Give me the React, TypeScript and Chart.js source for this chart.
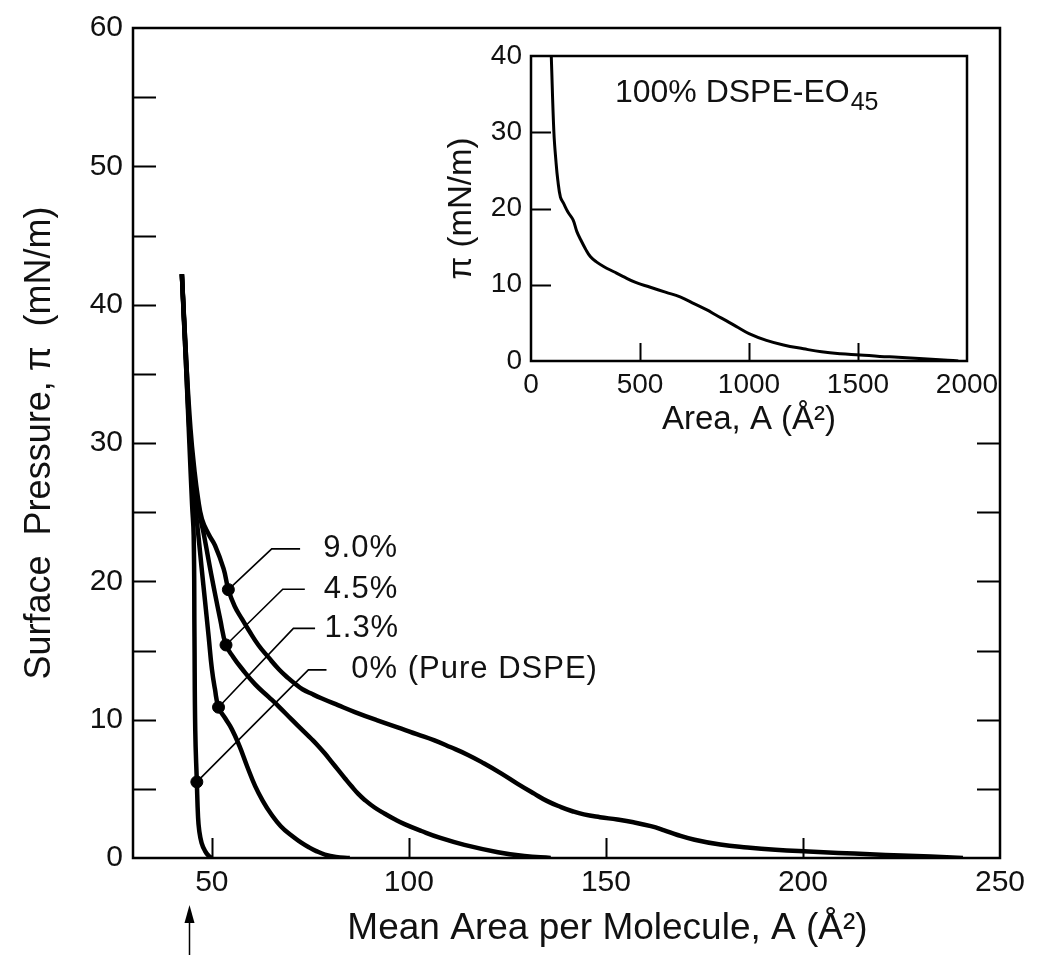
import React, { useEffect, useRef } from "react";
import { Chart, registerables } from "chart.js";
Chart.register(...registerables);

// ---------- Main isotherms: mean area per molecule (Å²) vs surface pressure (mN/m)
const pure0X = [42.4, 43.4, 44.3, 45.0, 45.4, 45.6, 45.8, 46.2, 46.5, 46.8, 47.4, 48.3, 49.2, 50.0];
const pure0Y = [42.2, 36.0, 30.0, 25.5, 23.3, 16.0, 9.2, 5.5, 3.0, 2.0, 1.1, 0.5, 0.15, 0.0];

const p13X = [42.4, 43.4, 44.5, 45.6, 46.6, 47.4, 48.3, 49.2, 50.0, 50.8, 51.7, 53.4, 55.1, 57.0, 59.0, 61.0, 63.0, 65.0, 67.5, 70.3, 72.5, 74.5, 76.5, 78.7, 81.5, 85.0];
const p13Y = [42.2, 36.0, 30.0, 26.0, 23.3, 21.0, 18.5, 16.0, 13.7, 12.2, 10.9, 10.1, 9.3, 8.1, 6.6, 5.2, 4.1, 3.2, 2.3, 1.6, 1.15, 0.8, 0.5, 0.25, 0.08, 0.0];

const p45X = [42.4, 43.5, 44.6, 45.8, 46.8, 47.9, 49.2, 50.4, 52.1, 53.6, 55.5, 57.6, 61.0, 64.4, 67.0, 70.3, 72.8, 75.3, 77.0, 78.7, 80.4, 82.1, 83.8, 85.4, 87.1, 88.8, 91.3, 93.9, 96.4, 98.9, 103.2, 108.0, 114.1, 122.6, 129.3, 136.0];
const p45Y = [42.2, 36.0, 30.0, 27.0, 25.0, 23.5, 21.5, 19.7, 17.3, 15.4, 14.5, 13.7, 12.55, 11.65, 10.95, 10.0, 9.3, 8.6, 8.1, 7.55, 6.95, 6.35, 5.75, 5.2, 4.65, 4.2, 3.65, 3.2, 2.8, 2.45, 1.95, 1.45, 0.95, 0.42, 0.14, 0.0];

const p90X = [42.4, 43.5, 44.6, 45.6, 46.5, 47.5, 49.2, 50.8, 53.0, 54.2, 55.8, 57.6, 59.3, 61.8, 64.4, 67.0, 69.4, 71.1, 73.0, 75.5, 77.8, 82.0, 86.3, 92.0, 98.1, 102.0, 106.5, 110.5, 115.0, 119.0, 123.4, 127.5, 131.8, 135.0, 138.6, 141.5, 144.4, 148.5, 152.9, 157.0, 161.4, 164.8, 168.0, 172.5, 179.0, 185.9, 193.0, 201.4, 209.0, 217.0, 225.0, 232.4, 240.6];
const p90Y = [42.2, 36.0, 31.0, 28.0, 26.0, 24.5, 23.4, 22.6, 20.9, 19.4, 18.2, 17.3, 16.5, 15.4, 14.5, 13.65, 13.0, 12.6, 12.2, 11.85, 11.55, 11.05, 10.55, 9.95, 9.35, 8.95, 8.5, 8.02, 7.45, 6.85, 6.12, 5.38, 4.65, 4.13, 3.68, 3.38, 3.15, 2.95, 2.78, 2.58, 2.3, 2.0, 1.68, 1.32, 0.97, 0.76, 0.6, 0.47, 0.37, 0.27, 0.18, 0.1, 0.0];

// Labelled points and their leader lines (data units)
const seriesLabels = ["9.0%", "4.5%", "1.3%", "0% (Pure DSPE)"];
const markerX = [54.2, 53.6, 51.7, 46.2];
const markerY = [19.4, 15.4, 10.9, 5.5];
const elbowX = [65.2, 68.0, 70.7, 74.5];
const elbowY = [22.35, 19.43, 16.6, 13.6];
const leaderEndX = [72.4, 73.6, 76.2, 79.1];
const labelX = [78.3, 78.4, 78.6, 85.4];

// Axis ticks
const xTickValues = [50, 100, 150, 200, 250];
const xTickMarks = [50, 100, 150, 200];
const yLeftTickMarks = [5, 10, 15, 20, 25, 30, 35, 40, 45, 50, 55];
const yRightTickMarks = [5, 10, 15, 20, 25, 30];
const arrowAtArea = 44.2;
const mainXTitle = "Mean Area per Molecule, A (Å²)";
const mainYTitle = "Surface  Pressure, π  (mN/m)";

// ---------- Inset: 100% DSPE-EO45
const insetX = [93, 105, 115, 123, 135, 149, 170, 193, 210, 228, 250, 272, 300, 333, 380, 421, 480, 544, 620, 684, 750, 807, 850, 895, 950, 1000, 1080, 1158, 1250, 1333, 1420, 1509, 1600, 1684, 1800, 1912, 1960];
const insetY = [40, 30, 26, 23.7, 21.5, 20.7, 19.5, 18.5, 17, 15.9, 14.7, 13.7, 13, 12.4, 11.7, 11.1, 10.3, 9.7, 9.0, 8.4, 7.5, 6.7, 6.0, 5.3, 4.4, 3.6, 2.7, 2.1, 1.6, 1.2, 0.95, 0.8, 0.6, 0.5, 0.3, 0.1, 0];
const insetXTickMarks = [500, 1000, 1500];
const insetYTickMarks = [10, 20, 30];
const insetTitlePos = { x: 385, y: 35.1 };

const FONT = "'Liberation Sans', Arial, Helvetica, sans-serif";
const INK = "#111";

const pts = (xs: number[], ys: number[]) => xs.map((x, i) => ({ x, y: ys[i] }));

const framePlugin = {
  id: "frame",
  afterDatasetsDraw(chart: any, _args: any, o: any) {
    const { ctx, chartArea: a, scales } = chart;
    const xs = scales.x, ys = scales.y;
    ctx.save();
    ctx.strokeStyle = "#000";
    ctx.lineWidth = o.frameWidth;
    ctx.strokeRect(a.left, a.top, a.right - a.left, a.bottom - a.top);
    ctx.lineWidth = o.tickWidth;
    ctx.beginPath();
    for (const v of o.leftTicks) {
      const py = Math.round(ys.getPixelForValue(v)) + 0.5;
      ctx.moveTo(a.left, py); ctx.lineTo(a.left + o.tickLen, py);
    }
    for (const v of o.rightTicks) {
      const py = Math.round(ys.getPixelForValue(v)) + 0.5;
      ctx.moveTo(a.right, py); ctx.lineTo(a.right - o.tickLen, py);
    }
    for (const v of o.bottomTicks) {
      const px = Math.round(xs.getPixelForValue(v)) + 0.5;
      ctx.moveTo(px, a.bottom); ctx.lineTo(px, a.bottom - o.xTickLen);
    }
    ctx.stroke();
    ctx.fillStyle = INK;
    ctx.textBaseline = "middle";
    ctx.textAlign = "left";
    for (const t of o.texts || []) {
      ctx.font = `${t.size}px ${FONT}`;
      (ctx as any).letterSpacing = t.spacing || "0px";
      const px = xs.getPixelForValue(t.x);
      const py = ys.getPixelForValue(t.y);
      ctx.fillText(t.text, px, py);
      if (t.sub) {
        const w = ctx.measureText(t.text).width;
        ctx.font = `${Math.round(t.size * 0.78)}px ${FONT}`;
        ctx.fillText(t.sub, px + w + 1, py + t.size * 0.3);
      }
    }
    (ctx as any).letterSpacing = "0px";
    if (o.xTitle) {
      ctx.font = `${o.xTitle.size}px ${FONT}`;
      ctx.textAlign = "center";
      ctx.fillText(o.xTitle.text, (a.left + a.right) / 2 + o.xTitle.shift, a.bottom + o.xTitle.offset);
    }
    if (o.arrow) {
      const px = Math.round(xs.getPixelForValue(o.arrow.x)) + 0.5;
      const tip = a.bottom + o.arrow.offset;
      ctx.lineWidth = 1.5;
      ctx.beginPath();
      ctx.moveTo(px, chart.height);
      ctx.lineTo(px, tip + 10);
      ctx.stroke();
      ctx.fillStyle = "#000";
      ctx.beginPath();
      ctx.moveTo(px, tip);
      ctx.lineTo(px - 5, tip + 18);
      ctx.lineTo(px + 5, tip + 18);
      ctx.closePath();
      ctx.fill();
    }
    ctx.restore();
  },
};

export default function App() {
  const mainRef = useRef<HTMLCanvasElement>(null);
  const insetRef = useRef<HTMLCanvasElement>(null);

  useEffect(() => {
    const curve = (xs: number[], ys: number[]) => ({
      data: pts(xs, ys),
      borderColor: "#000",
      borderWidth: 4.5,
      pointRadius: 0,
      tension: 0.45,
      fill: false,
    });
    const leaders = seriesLabels.map((_, i) => ({
      data: [
        { x: markerX[i], y: markerY[i] },
        { x: elbowX[i], y: elbowY[i] },
        { x: leaderEndX[i], y: elbowY[i] },
      ],
      borderColor: "#000",
      borderWidth: 1.6,
      pointRadius: 0,
      tension: 0,
      fill: false,
    }));
    const main = new Chart(mainRef.current!, {
      type: "line",
      data: {
        datasets: [
          curve(pure0X, pure0Y),
          curve(p13X, p13Y),
          curve(p45X, p45Y),
          curve(p90X, p90Y),
          ...leaders,
          {
            type: "scatter",
            data: pts(markerX, markerY),
            pointRadius: 6,
            pointBackgroundColor: "#000",
            pointBorderColor: "#000",
            showLine: false,
          } as any,
        ],
      },
      options: {
        animation: false,
        responsive: false,
        events: [],
        layout: { padding: { left: 0, right: 47, top: 21, bottom: 0 } },
        plugins: {
          legend: { display: false },
          tooltip: { enabled: false },
          frame: {
            frameWidth: 2.5,
            tickWidth: 2,
            tickLen: 23,
            xTickLen: 20,
            leftTicks: yLeftTickMarks,
            rightTicks: yRightTickMarks,
            bottomTicks: xTickMarks,
            arrow: { x: arrowAtArea, offset: 47 },
            xTitle: { text: mainXTitle, size: 37, shift: 41, offset: 71 },
            texts: seriesLabels.map((s, i) => ({
              text: s,
              x: labelX[i],
              y: elbowY[i],
              size: 31,
              spacing: "1px",
            })),
          },
        } as any,
        scales: {
          x: {
            type: "linear",
            min: 30,
            max: 250,
            afterBuildTicks: (s: any) => {
              s.ticks = xTickValues.map((v) => ({ value: v }));
            },
            afterFit: (s: any) => {
              s.height = 97;
            },
            grid: { display: false, drawTicks: false },
            border: { display: false },
            ticks: {
              color: INK,
              font: { family: FONT, size: 30 },
              padding: 7,
              maxRotation: 0,
              callback: (v: any) => String(v),
            },
            title: { display: false },
          },
          y: {
            type: "linear",
            min: 0,
            max: 60,
            afterFit: (s: any) => {
              s.width = 133;
            },
            grid: { display: false, drawTicks: false },
            border: { display: false },
            ticks: {
              stepSize: 10,
              color: INK,
              font: { family: FONT, size: 30 },
              padding: 10,
              callback: (v: any) => String(v),
            },
            title: {
              display: true,
              text: mainYTitle,
              color: INK,
              font: { family: FONT, size: 36, lineHeight: 1.2 },
              padding: { top: 18, bottom: 0 },
            },
          },
        },
      },
      plugins: [framePlugin as any],
    });

    const inset = new Chart(insetRef.current!, {
      type: "line",
      data: {
        datasets: [
          {
            data: pts(insetX, insetY),
            borderColor: "#000",
            borderWidth: 3,
            pointRadius: 0,
            tension: 0.4,
            fill: false,
          },
        ],
      },
      options: {
        animation: false,
        responsive: false,
        events: [],
        layout: { padding: { left: 0, right: 43, top: 26, bottom: 0 } },
        plugins: {
          legend: { display: false },
          tooltip: { enabled: false },
          frame: {
            frameWidth: 2.5,
            tickWidth: 2,
            tickLen: 20,
            xTickLen: 18,
            leftTicks: insetYTickMarks,
            rightTicks: [],
            bottomTicks: insetXTickMarks,
            texts: [{ text: "100% DSPE-EO", sub: "45", x: insetTitlePos.x, y: insetTitlePos.y, size: 32 }],
          },
        } as any,
        scales: {
          x: {
            type: "linear",
            min: 0,
            max: 2000,
            afterFit: (s: any) => {
              s.height = 89;
            },
            grid: { display: false, drawTicks: false },
            border: { display: false },
            ticks: {
              stepSize: 500,
              color: INK,
              font: { family: FONT, size: 28 },
              padding: 7,
              maxRotation: 0,
              callback: (v: any) => String(v),
            },
            title: {
              display: true,
              text: "Area, A (Å²)",
              color: INK,
              font: { family: FONT, size: 33, lineHeight: 1.2 },
              padding: { top: 0, bottom: 10 },
            },
          },
          y: {
            type: "linear",
            min: 0,
            max: 40,
            afterFit: (s: any) => {
              s.width = 91;
            },
            grid: { display: false, drawTicks: false },
            border: { display: false },
            ticks: {
              stepSize: 10,
              color: INK,
              font: { family: FONT, size: 28 },
              padding: 9,
              callback: (v: any) => String(v),
            },
            title: {
              display: true,
              text: "π (mN/m)",
              color: INK,
              font: { family: FONT, size: 33, lineHeight: 1.2 },
              padding: { top: 2, bottom: 0 },
            },
          },
        },
      },
      plugins: [framePlugin as any],
    });

    return () => {
      main.destroy();
      inset.destroy();
    };
  }, []);

  return (
    <div style={{ position: "absolute", left: 0, top: 0, width: 1047, height: 955, background: "#fff" }}>
      <canvas
        ref={mainRef}
        width={1047}
        height={955}
        style={{ position: "absolute", left: 0, top: 0, width: 1047, height: 955 }}
      />
      <canvas
        ref={insetRef}
        width={570}
        height={420}
        style={{ position: "absolute", left: 440, top: 30, width: 570, height: 420 }}
      />
    </div>
  );
}
